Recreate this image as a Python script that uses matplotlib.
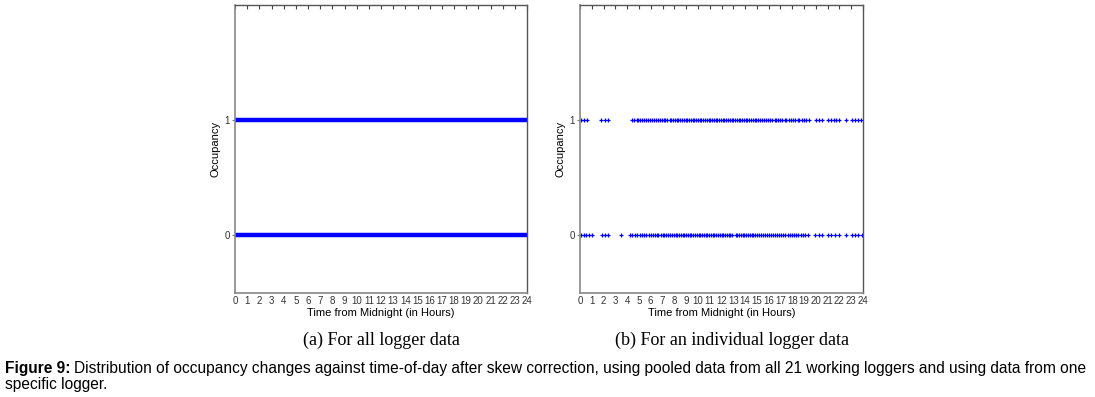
import matplotlib
matplotlib.use("Agg")
import matplotlib.pyplot as plt

# ---------------- data ----------------
hours = list(range(0, 25))
hour_labels = [str(h) for h in hours]
occ_levels = [0, 1]

# (a) pooled data from all loggers: changes at every time of day
pooled_times = [0, 1, 2, 3, 4, 5, 6, 7, 8, 9, 10, 11, 12, 13, 14, 15, 16,
                17, 18, 19, 20, 21, 22, 23, 24]

# (b) one logger: times of changes to occupancy 1
indiv_times_1 = [0.1, 0.35, 0.6, 1.8, 2.1, 2.35,
                 4.45, 4.6, 4.8, 4.95, 5.1, 5.3, 5.45, 5.6, 5.8, 5.95, 6.1, 6.3,
                 6.45, 6.6, 6.8, 6.95, 7.1, 7.25, 7.4, 7.6, 7.75, 7.9, 8.05, 8.2,
                 8.35, 8.5, 8.65, 8.8, 8.95, 9.1, 9.25, 9.4, 9.55, 9.7, 9.85, 10.0,
                 10.15, 10.3, 10.45, 10.6, 10.75, 10.9, 11.05, 11.2, 11.35, 11.5,
                 11.65, 11.8, 11.95, 12.1, 12.25, 12.4, 12.55, 12.7, 12.85, 13.0,
                 13.15, 13.3, 13.45, 13.6, 13.75, 13.9, 14.05, 14.2, 14.35, 14.5,
                 14.65, 14.8, 14.95, 15.1, 15.3, 15.45, 15.6, 15.8, 15.95, 16.1,
                 16.3, 16.5, 16.65, 16.8, 17.0, 17.15, 17.35, 17.5, 17.7, 17.9,
                 18.05, 18.25, 18.45, 18.6, 18.8, 19.0, 19.2, 19.45,
                 20.05, 20.3, 20.55, 21.0, 21.25, 21.5, 21.75, 22.0, 22.6,
                 23.1, 23.35, 23.6, 23.85]
# (b) one logger: times of changes to occupancy 0
indiv_times_0 = [0.05, 0.3, 0.55, 0.8, 1.05, 1.85, 2.1, 2.35, 3.5,
                 4.25, 4.45, 4.65, 4.85, 5.05, 5.25, 5.45, 5.6, 5.85, 6.0, 6.15,
                 6.35, 6.5, 6.65, 6.85, 7.0, 7.15, 7.3, 7.45, 7.65, 7.8, 7.95,
                 8.1, 8.25, 8.4, 8.55, 8.7, 8.85, 9.0, 9.15, 9.3, 9.45, 9.6, 9.75,
                 9.9, 10.05, 10.2, 10.35, 10.5, 10.65, 10.8, 10.95, 11.1, 11.25,
                 11.4, 11.55, 11.7, 11.85, 12.0, 12.15, 12.3, 12.45, 12.6, 12.75,
                 12.9, 13.2, 13.35, 13.5, 13.65, 13.8, 13.95, 14.1, 14.25, 14.4,
                 14.55, 14.7, 14.85, 15.0, 15.15, 15.35, 15.5, 15.65, 15.85, 16.0,
                 16.2, 16.35, 16.55, 16.7, 16.9, 17.05, 17.25, 17.4, 17.6, 17.8,
                 17.95, 18.15, 18.35, 18.5, 18.7, 18.9, 19.1, 19.3,
                 19.95, 20.25, 20.55, 21.0, 21.3, 21.6, 21.95, 22.6,
                 23.1, 23.35, 23.6, 23.9]

sub_captions = ["(a) For all logger data", "(b) For an individual logger data"]
xlabel = "Time from Midnight (in Hours)"
ylabel = "Occupancy"

# ---------------- figure ----------------
W, H = 1095, 397
fig = plt.figure(figsize=(W / 100, H / 100), dpi=100)

def make_axes(x0, x1, y0, y1):
    return fig.add_axes([x0 / W, 1 - y1 / H, (x1 - x0) / W, (y1 - y0) / H])

ax_a = make_axes(235, 527, 5, 293)
ax_b = make_axes(580, 863, 5, 293)

blue = "#0000ff"
ax_a.plot(pooled_times, [1] * len(pooled_times), color=blue, lw=3.2,
          solid_capstyle="butt")
ax_a.plot(pooled_times, [0] * len(pooled_times), color=blue, lw=3.2,
          solid_capstyle="butt")

ax_b.plot(indiv_times_1, [1] * len(indiv_times_1), linestyle="none",
          marker="+", ms=3.2, mew=0.9, color=blue)
ax_b.plot(indiv_times_0, [0] * len(indiv_times_0), linestyle="none",
          marker="+", ms=3.2, mew=0.9, color=blue)

cap_centers = [381, 732]
for ax, cap, cx in zip([ax_a, ax_b], sub_captions, cap_centers):
    ax.set_xlim(0, 24)
    ax.set_ylim(-0.5, 2)
    ax.set_xticks(hours)
    ax.set_xticklabels(hour_labels, fontsize=7, color="#333333",
                       family="Liberation Sans")
    ax.set_yticks(occ_levels)
    ax.set_yticklabels([str(v) for v in occ_levels], fontsize=7,
                       color="#333333", family="Liberation Sans")
    ax.tick_params(axis="x", which="both", bottom=False, top=True,
                   direction="in", length=3, pad=2, color="#444444")
    ax.tick_params(axis="y", direction="out", length=2, pad=1.5,
                   color="#777777")
    ax.set_xlabel(xlabel, fontsize=8, family="Liberation Sans", labelpad=1.5)
    ax.set_ylabel(ylabel, fontsize=8, family="Liberation Sans", labelpad=3)
    for side in ["left", "bottom"]:
        ax.spines[side].set_color("#888888")
        ax.spines[side].set_linewidth(1.2)
    for side in ["top", "right"]:
        ax.spines[side].set_color("#555555")
        ax.spines[side].set_linewidth(1.0)
    fig.text(cx / W, 1 - 340 / H, cap, ha="center",
             va="center", fontsize=13, family="Liberation Serif")

# caption
renderer = fig.canvas.get_renderer()
y1 = 1 - 368 / H
y2 = 1 - 384 / H
cap_size = 11.2
t_bold = fig.text(5 / W, y1, "Figure 9:", fontsize=cap_size, weight="bold",
                  family="Liberation Sans", va="center", ha="left")
bb = t_bold.get_window_extent(renderer=renderer)
fig.text((bb.x1 + 3) / W, y1,
         "Distribution of occupancy changes against time-of-day after skew "
         "correction, using pooled data from all 21 working loggers and using "
         "data from one",
         fontsize=cap_size, family="Liberation Sans", va="center", ha="left")
fig.text(5 / W, y2, "specific logger.", fontsize=cap_size,
         family="Liberation Sans", va="center", ha="left")

fig.savefig("out.png", dpi=100)
